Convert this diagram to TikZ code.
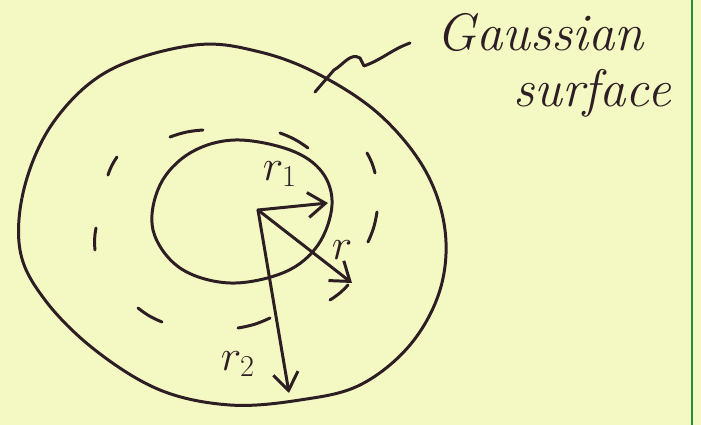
\documentclass[tikz,border=0pt]{standalone}
\usepackage{tikz}
\usetikzlibrary{arrows.meta,positioning}
\definecolor{paper}{RGB}{244,249,196}
\definecolor{ink}{RGB}{45,30,35}
\definecolor{margin}{RGB}{40,140,50}

\begin{document}
\begin{tikzpicture}[
        x=0.02cm, y=-0.02cm,
        pen/.style={draw=ink, line width=1.7pt, line cap=round, line join=round},
        ar/.style={pen, -{Straight Barb[length=3.5mm, width=5mm]}},
        lbl/.style={text=ink, inner sep=0pt, font=\fontsize{27}{29}\selectfont},
        hand/.style={text=ink, inner sep=0pt, font=\itshape\fontsize{30}{32}\selectfont}
    ]
        \fill[paper] (0,0) rectangle (701,425);
        \useasboundingbox (0,0) rectangle (701,425);
        \draw[margin, line width=1.2pt] (692,0) -- (692,425);
        \draw[pen] plot[smooth cycle, tension=0.6] coordinates {(195,45) (260,52) (320,75) (380,115) (425,170) (445,230) (440,290) (410,345) (360,385) (300,400) (230,405) (160,390) (95,350) (45,300) (20,250) (25,185) (55,120) (110,70)};
        \draw[pen] plot[smooth cycle, tension=0.6] coordinates {(235,140) (290,150) (322,172) (332,205) (318,245) (285,272) (230,283) (180,268) (153,230) (160,185) (190,153)};
        \foreach \xa/\ya/\xb/\yb in {170/137/203/130, 280/133/308/148, 367/153/375/173, 377/212/368/242, 348/285/330/300, 270/318/238/328, 162/322/138/308, 95/250/96/228, 108/175/117/157}
            \draw[pen] (\xa,\ya) to[bend left=8] (\xb,\yb);
        \coordinate (O) at (258,210);
        \coordinate (T1) at (328,203);
        \coordinate (T) at (352,283);
        \coordinate (T2) at (289,393);
        \draw[ar] (O) -- (T1);
        \draw[ar] (O) -- (T);
        \draw[ar] (O) -- (T2);
        \node (rone) [lbl] at (280,174) {$r_1$};
        \node (rr) [lbl] at (342,250) {$r$};
        \node (rtwo) [lbl] at (238,364) {$r_2$};
        \node (gauss) [hand] at (540,33) {Gaussian};
        \node (surf) [hand] at (592,93) {surface};
        \coordinate (lead) at (315,92);
        \draw[pen] (lead) -- (334,70) to[out=30,in=150] (360,58) -- (364,66) to[out=20,in=200] (410,43);
    \end{tikzpicture}
\end{document}
